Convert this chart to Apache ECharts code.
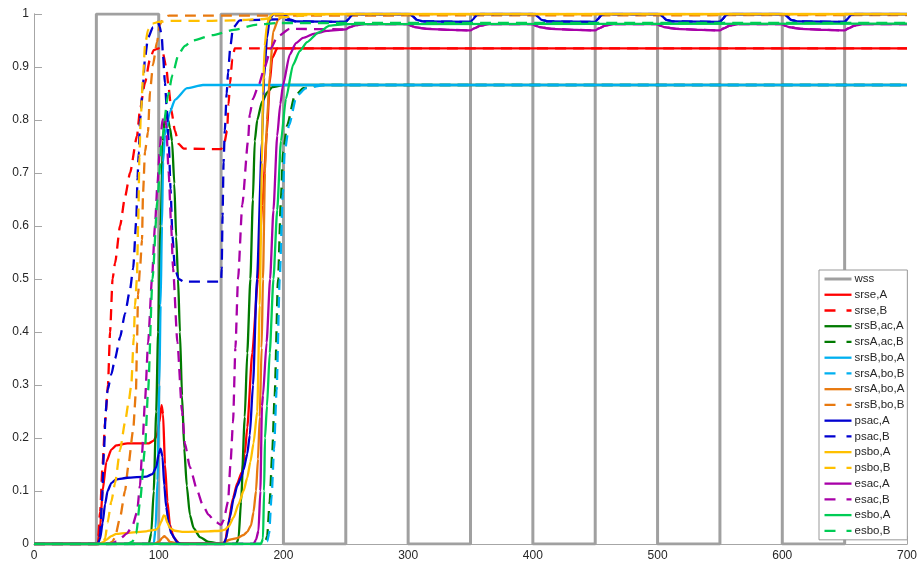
<!DOCTYPE html>
<html>
<head>
<meta charset="utf-8">
<script src="https://cdn.jsdelivr.net/npm/echarts@6/dist/echarts.min.js"></script>
<style>
html,body{margin:0;padding:0;background:#fff;}
#chart{width:921px;height:565px;}
</style>
</head>
<body>
<div id="chart"></div>
<script>
// ---- tick labels ----
const xTicks = [0, 100, 200, 300, 400, 500, 600, 700];
const yTicks = [0, 0.1, 0.2, 0.3, 0.4, 0.5, 0.6, 0.7, 0.8, 0.9, 1];

// ---- series names ----
const names = ['wss','srse,A','srse,B','srsB,ac,A','srsA,ac,B','srsB,bo,A','srsA,bo,B','srsA,bo,A','srsB,bo,B','psac,A','psac,B','psbo,A','psbo,B','esac,A','esac,B','esbo,A','esbo,B'];

// ---- series values [x, y] ----
const wss = [[0,0],[50,0],[50,1],[100,1],[100,0],[150,0],[150,1],[200,1],[200,0],[250,0],[250,1],[300,1],[300,0],[350,0],[350,1],[400,1],[400,0],[450,0],[450,1],[500,1],[500,0],[550,0],[550,1],[600,1],[600,0],[650,0],[650,1],[700,1]];

const srseA = [[0,0],[51,0],[53,0.03],[55,0.1],[58,0.155],[62,0.178],[66,0.186],[75,0.19],[92,0.19],[96,0.195],[98.5,0.205],[100.5,0.23],[102.3,0.262],[103.5,0.245],[105,0.15],[107,0.08],[109,0.036],[112,0.012],[116,0.002],[120,0],[153,0],[155.6,0.036],[159.6,0.087],[163,0.115],[166.8,0.136],[169,0.17],[171,0.22],[175,0.36],[179.6,0.5],[183,0.64],[186.8,0.777],[189,0.87],[191,0.917],[195,0.935],[700,0.935]];

const srseB = [[0,0],[51,0],[53,0.06],[55,0.15],[57,0.23],[59.3,0.3],[61,0.4],[63,0.5],[65,0.53],[69,0.6],[73,0.655],[77,0.7],[82.6,0.77],[85,0.82],[89,0.87],[93,0.915],[96,0.932],[100,0.935],[103,0.93],[106,0.9],[108,0.86],[110,0.82],[113,0.78],[116,0.755],[120,0.746],[150,0.745],[152.5,0.755],[154.8,0.78],[156,0.83],[157.2,0.87],[159,0.915],[161,0.935],[700,0.935]];

const srsBacA = [[0,0],[92,0],[94,0.02],[96,0.1],[98,0.25],[99.5,0.4],[101.5,0.6],[103.4,0.76],[104.8,0.805],[106,0.81],[107.5,0.8],[109,0.785],[110.7,0.76],[112.5,0.68],[114,0.58],[115.5,0.5],[117,0.4],[118.7,0.28],[120.5,0.18],[122.5,0.11],[125,0.055],[128,0.03],[133,0.013],[140,0.004],[150,0],[162,0],[164,0.01],[166,0.08],[169,0.24],[171,0.36],[173.5,0.5],[175.5,0.65],[177,0.76],[179,0.8],[182.8,0.834],[187,0.852],[191,0.862],[200,0.866],[700,0.866]];

const srsAacB = [[0,0],[183,0],[185.5,0.005],[187,0.015],[189,0.08],[191,0.17],[193,0.28],[195.7,0.5],[198,0.65],[199.7,0.74],[203,0.79],[209,0.845],[216,0.86],[230,0.866],[700,0.866]];

const srsBboA = [[0,0],[96,0],[97.5,0.03],[99,0.12],[100.5,0.3],[101.5,0.45],[102.6,0.6],[103.5,0.72],[105,0.772],[109,0.815],[113,0.838],[122.7,0.86],[135.5,0.866],[700,0.866]];

const srsAboB = [[0,0],[184,0],[187,0.005],[188.5,0.02],[190.5,0.09],[192.5,0.18],[194.5,0.29],[197,0.5],[199.5,0.66],[201,0.74],[204.5,0.79],[210.5,0.845],[218,0.86],[232,0.866],[700,0.866]];

const srsAboA = [[0,0],[96,0],[100,0.004],[103,0.012],[104.5,0.015],[106,0.012],[109,0.004],[115,0.001],[150,0.001],[157,0.008],[163,0.011],[168,0.017],[171,0.023],[174,0.035],[176,0.06],[178,0.1],[179.6,0.16],[181,0.24],[182.5,0.37],[183.6,0.5],[185.2,0.7],[186.8,0.8],[189.3,0.89],[191.7,0.966],[195.7,0.989],[200,0.997],[205,1],[700,1]];

const srsBboB = [[0,0],[60,0],[63,0.005],[65,0.013],[69,0.05],[73,0.1],[75.5,0.145],[79.5,0.215],[81.8,0.29],[82.6,0.38],[83.4,0.47],[85,0.52],[86.6,0.574],[87.4,0.66],[89,0.74],[91.4,0.777],[93,0.853],[95.4,0.904],[98.6,0.947],[101,0.98],[103.5,0.992],[108,0.997],[700,0.998]];

const psacA = [[0,0],[51,0],[53,0.01],[55,0.04],[57,0.075],[59,0.1],[62,0.115],[66,0.122],[75,0.125],[90,0.127],[95,0.132],[98,0.145],[100,0.17],[101.5,0.18],[103,0.165],[104.5,0.11],[106,0.07],[108,0.04],[110,0.02],[115,0.003],[118,0],[152,0],[154,0.01],[157,0.05],[160,0.085],[163,0.11],[166,0.125],[168,0.14],[171,0.17],[173,0.205],[175.6,0.3],[178.8,0.5],[182.8,0.76],[184.5,0.88],[186.8,0.955],[189,0.99],[192,1],[200,1],[202,0.997],[205,0.99],[210,0.986],[250,0.985],[252,0.99],[255,0.998],[258,1],[302,1],[304,0.995],[307,0.989],[312,0.986],[350,0.985],[352,0.99],[355,0.998],[358,1],[402,1],[404,0.995],[407,0.989],[412,0.986],[450,0.985],[452,0.99],[455,0.998],[458,1],[502,1],[504,0.995],[507,0.989],[512,0.986],[550,0.985],[552,0.99],[555,0.998],[558,1],[602,1],[604,0.995],[607,0.989],[612,0.986],[650,0.985],[652,0.99],[655,0.998],[658,1],[700,1]];

const psacB = [[0,0],[52,0],[53,0.02],[54.5,0.08],[56,0.17],[57.5,0.25],[59,0.29],[62,0.32],[65,0.35],[69,0.39],[73,0.435],[77,0.48],[79.5,0.52],[82,0.61],[83,0.69],[84,0.74],[85,0.8],[87.4,0.866],[89,0.917],[91.4,0.955],[95.4,0.975],[99.4,0.985],[101,0.975],[102.5,0.955],[103.5,0.92],[105,0.87],[106.5,0.82],[108,0.76],[109.5,0.67],[111,0.58],[113,0.52],[116,0.5],[120,0.495],[150,0.495],[150.5,0.52],[151.2,0.62],[152,0.72],[153,0.78],[154.5,0.85],[155.6,0.89],[157.5,0.94],[159.6,0.974],[165,0.988],[195,0.99],[200,0.99],[205,0.988],[210,0.986],[250,0.985],[252,0.99],[255,0.998],[258,1],[302,1],[304,0.995],[307,0.989],[312,0.986],[350,0.985],[352,0.99],[355,0.998],[358,1],[402,1],[404,0.995],[407,0.989],[412,0.986],[450,0.985],[452,0.99],[455,0.998],[458,1],[502,1],[504,0.995],[507,0.989],[512,0.986],[550,0.985],[552,0.99],[555,0.998],[558,1],[602,1],[604,0.995],[607,0.989],[612,0.986],[650,0.985],[652,0.99],[655,0.998],[658,1],[700,1]];

const psboA = [[0,0],[52,0],[55,0.003],[58,0.008],[62,0.015],[66,0.019],[75,0.021],[90,0.024],[98,0.027],[100,0.032],[102,0.042],[104,0.054],[105,0.053],[107,0.04],[109,0.03],[113,0.025],[120,0.023],[140,0.024],[150,0.025],[153,0.027],[156,0.033],[160,0.05],[164,0.075],[168,0.1],[171,0.125],[173.5,0.155],[176,0.19],[179,0.25],[181,0.45],[182.8,0.72],[183.6,0.85],[185,0.94],[186.8,0.98],[189,0.995],[192,1],[700,1]];

const psboB = [[0,0],[54,0],[57,0.01],[59,0.04],[62,0.08],[65,0.115],[69,0.177],[73,0.23],[76,0.27],[78,0.3],[80,0.39],[81,0.45],[82.5,0.5],[83.5,0.6],[84.5,0.73],[85.5,0.8],[87.4,0.88],[89,0.94],[91.4,0.97],[95,0.982],[100,0.985],[110,0.987],[140,0.987],[160,0.988],[180,0.99],[200,0.994],[220,0.998],[240,1],[700,1]];

const esacA = [[0,0],[176,0],[178,0.008],[180,0.025],[181.5,0.1],[182.8,0.26],[183.6,0.28],[186.5,0.38],[189.3,0.5],[192,0.63],[195,0.77],[197.5,0.83],[199.7,0.866],[205,0.923],[210,0.945],[215.7,0.955],[225,0.963],[235,0.968],[250,0.971],[253,0.975],[258,0.979],[265,0.981],[300,0.981],[302,0.978],[306,0.975],[315,0.972],[335,0.97],[350,0.969],[353,0.973],[358,0.978],[365,0.981],[400,0.981],[402,0.978],[406,0.975],[415,0.972],[435,0.97],[450,0.969],[453,0.973],[458,0.978],[465,0.981],[500,0.981],[502,0.978],[506,0.975],[515,0.972],[535,0.97],[550,0.969],[553,0.973],[558,0.978],[565,0.981],[600,0.981],[602,0.978],[606,0.975],[615,0.972],[635,0.97],[650,0.969],[653,0.973],[658,0.978],[665,0.981],[700,0.981]];

const esacB = [[0,0],[62,0],[66,0.005],[69,0.01],[74.6,0.02],[79,0.035],[82.6,0.06],[85,0.11],[86.6,0.17],[89,0.27],[91.5,0.38],[94.6,0.5],[97,0.6],[99,0.68],[101,0.75],[103,0.8],[104.5,0.81],[106,0.79],[108,0.7],[110,0.6],[111.5,0.52],[115,0.38],[118.7,0.25],[121,0.19],[125,0.145],[131,0.1],[135,0.075],[140,0.055],[145,0.043],[150,0.036],[152,0.045],[155.6,0.08],[157.5,0.15],[159.6,0.23],[161.5,0.37],[163.6,0.5],[167,0.64],[171.6,0.76],[173,0.81],[175.6,0.84],[180,0.865],[185,0.9],[190,0.935],[195,0.957],[205,0.972],[250,0.971],[253,0.975],[258,0.979],[265,0.981],[300,0.981],[302,0.978],[306,0.975],[315,0.972],[335,0.97],[350,0.969],[353,0.973],[358,0.978],[365,0.981],[400,0.981],[402,0.978],[406,0.975],[415,0.972],[435,0.97],[450,0.969],[453,0.973],[458,0.978],[465,0.981],[500,0.981],[502,0.978],[506,0.975],[515,0.972],[535,0.97],[550,0.969],[553,0.973],[558,0.978],[565,0.981],[600,0.981],[602,0.978],[606,0.975],[615,0.972],[635,0.97],[650,0.969],[653,0.973],[658,0.978],[665,0.981],[700,0.981]];

const esboA = [[0,0],[182,0],[183.6,0.01],[184.5,0.1],[185.2,0.2],[186.8,0.26],[189,0.36],[192,0.5],[195,0.63],[198,0.76],[202,0.84],[207.7,0.904],[213,0.93],[219,0.947],[228,0.965],[237,0.978],[250,0.981],[700,0.982]];

const esboB = [[0,0],[75,0],[79,0.005],[82,0.02],[85,0.08],[89,0.18],[91.5,0.29],[95,0.5],[99,0.65],[102.5,0.76],[107.5,0.847],[111,0.885],[116,0.925],[121,0.94],[127,0.95],[143,0.96],[160,0.97],[179,0.98],[195,0.983],[700,0.983]];

const allData = [wss, srseA, srseB, srsBacA, srsAacB, srsBboA, srsAboB, srsAboA, srsBboB, psacA, psacB, psboA, psboB, esacA, esacB, esboA, esboB];

// ---- styles (kept apart from data) ----
const colors = ['#a0a0a0','#ff0000','#ff0000','#007a00','#007a00','#00b0f0','#00b0f0','#e8790f','#e8790f','#0000d0','#0000d0','#ffc000','#ffc000','#a800a8','#a800a8','#00cc55','#00cc55'];
const dashed = [false,false,true,false,true,false,true,false,true,false,true,false,true,false,true,false,true];

const FONT = '"Liberation Sans", Arial, sans-serif';
const AXC = '#a6a6a6';

const series = names.map((n, i) => ({
  name: n,
  type: 'line',
  data: allData[i],
  symbol: 'none',
  smooth: i === 0 ? false : 0.2,
  smoothMonotone: 'x',
  animation: false,
  lineStyle: {
    color: colors[i],
    width: i === 0 ? 3 : 2.3,
    type: dashed[i] ? [11, 7] : 'solid'
  },
  itemStyle: { color: colors[i] },
  z: 2
}));

const legendData = names.map((n, i) => ({
  name: n,
  itemStyle: { opacity: 0 },
  lineStyle: { color: colors[i], width: i === 0 ? 3 : 2.3, type: dashed[i] ? [11, 11] : 'solid' }
}));

const chart = echarts.init(document.getElementById('chart'), null, {renderer: 'canvas'});
chart.setOption({
  backgroundColor: '#ffffff',
  animation: false,
  grid: { left: 34, right: 14, top: 14, bottom: 21, containLabel: false },
  xAxis: [{
    type: 'value', min: xTicks[0], max: xTicks[xTicks.length - 1], interval: 100,
    axisLine: { show: true, lineStyle: { color: AXC, width: 1 } },
    axisTick: { show: true, inside: true, length: 8, lineStyle: { color: AXC } },
    axisLabel: { color: '#262626', fontSize: 12, fontFamily: FONT, margin: 6 },
    splitLine: { show: false }
  }, {
    type: 'value', position: 'top', min: 0, max: 700, interval: 100,
    axisLine: { show: true, lineStyle: { color: AXC, width: 1 } },
    axisTick: { show: false }, axisLabel: { show: false }, splitLine: { show: false }
  }],
  yAxis: [{
    type: 'value', min: yTicks[0], max: yTicks[yTicks.length - 1], interval: 0.1,
    axisLine: { show: true, lineStyle: { color: AXC, width: 1 } },
    axisTick: { show: true, inside: true, length: 8, lineStyle: { color: AXC } },
    axisLabel: { color: '#262626', fontSize: 12, fontFamily: FONT, margin: 5 },
    splitLine: { show: false }
  }, {
    type: 'value', position: 'right', min: 0, max: 1, interval: 0.1,
    axisLine: { show: true, lineStyle: { color: AXC, width: 1 } },
    axisTick: { show: false }, axisLabel: { show: false }, splitLine: { show: false }
  }],
  legend: {
    data: legendData,
    orient: 'vertical',
    left: 819, top: 270,
    padding: [3, 3, 3, 4],
    itemWidth: 27, itemHeight: 12, itemGap: 3.74,
    backgroundColor: '#ffffff',
    borderColor: '#999999', borderWidth: 1,
    selectedMode: false,
    itemStyle: { opacity: 0 },
    textStyle: { color: '#262626', fontSize: 11.5, fontFamily: FONT, padding: [0, 0, 0, -2] }
  },
  series: series
});
</script>
</body>
</html>
